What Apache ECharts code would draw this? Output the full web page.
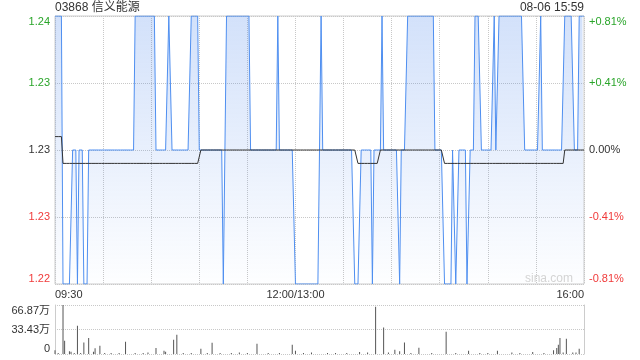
<!DOCTYPE html>
<html><head><meta charset="utf-8">
<script src="https://cdn.jsdelivr.net/npm/echarts@6/dist/echarts.min.js"></script>
<style>html,body{margin:0;padding:0;background:#fff}#c{width:640px;height:360px}</style>
</head><body><div id="c"></div>
<script>
// price per minute, run-length encoded: [price, number of minutes]
const priceRuns = [
  [1.24,5],[1.22,6],[1.23,3],[1.22,1],[1.23,3],[1.22,3],[1.23,29],[1.24,13],[1.23,8],[1.24,2],
  [1.23,12],[1.24,5],[1.23,15],[1.22,1],[1.23,1],[1.24,15],[1.23,17],[1.24,1],[1.23,10],[1.22,16],
  [1.24,1],[1.23,20],[1.22,4],[1.23,7],[1.22,1],[1.23,5],[1.24,1],[1.23,10],[1.22,1],[1.23,4],
  [1.24,17],[1.23,6],[1.22,5],[1.23,2],[1.22,2],[1.23,5],[1.22,2],[1.23,3],[1.24,4],[1.23,8],
  [1.24,1],[1.23,2],[1.24,16],[1.23,10],[1.24,1],[1.23,14],[1.24,6],[1.23,3],[1.24,4]
];
// average price per minute, run-length encoded
const avgRuns = [[1.231,5],[1.229,86],[1.23,98],[1.229,14],[1.23,40],[1.229,75],[1.23,13]];
// volume (万) : [minute index, volume]
const volumePoints = [
  [0,5],[2,1.5],[5,66.87],[6,18],[9,3.6],[10,3],[12,1.5],[14,38.4],[16,1.5],[18,15.8],[21,22],[24,3],[25,8],
  [28,11.3],[31,1.5],[35,1.5],[40,1.5],[44,16.7],[50,1.5],[55,1.5],[58,2],[63,8.1],[68,4.5],[69,3],
  [74,19.4],[76,26.2],[80,1.5],[85,1.5],[91,7.2],[95,1.5],[98,15.4],[103,1.5],[110,1.5],[115,2],
  [120,1.5],[126,14],[133,1.5],[140,1.5],[148,12.7],[150,4.5],[155,1.5],[160,2],[170,1.5],[175,1.5],
  [182,1.5],[190,2.7],[195,2],[200,64.6],[205,36.1],[208,2],[212,5.9],[215,3.6],[218,15.8],[222,1.5],
  [227,8.6],[235,1.5],[244,30.3],[250,1.5],[258,4.5],[265,1.5],[270,1.5],[276,4.5],[285,2],[290,1.5],
  [298,2.7],[305,1.5],[311,5],[313,8.1],[314,12.7],[315,21.7],[317,2],[319,20.8],[323,2],[325,2],[327,7.2]
];
const minuteCount = 331;
const priceTicks = ['1.22','1.23','1.23','1.23','1.24'];
const pctTicks = ['-0.81%','-0.41%','0.00%','+0.41%','+0.81%'];
const tickColors = ['#f03a3a','#f03a3a','#333','#2aa52a','#2aa52a'];
const volTicks = ['0','33.43万','66.87万'];
const xTickIdx = [0,150,330];
const xTickLabels = ['09:30','12:00/13:00','16:00'];

function expand(runs){const out=[];runs.forEach(([v,n])=>{for(let i=0;i<n;i++)out.push(v);});return out;}
const prices = expand(priceRuns);
const avgs = expand(avgRuns);
const vols = new Array(minuteCount).fill(0);
volumePoints.forEach(([m,v])=>{vols[m]=v;});
const cats = Array.from({length:minuteCount},(_,i)=>String(i));

const FF = '"Liberation Sans", Arial, "Noto Sans CJK SC", sans-serif';
const pIdx = v => Math.round((v-1.22)/0.005);

const chart = echarts.init(document.getElementById('c'), null, {renderer:'canvas'});
chart.setOption({
  animation:false,
  textStyle:{fontFamily:FF},
  title:[
    {text:'03868 信义能源', left:55, top:2, padding:0, textStyle:{fontSize:12, fontWeight:'normal', color:'#333', fontFamily:FF}},
    {text:'08-06 15:59', right:56, top:2, padding:0, textStyle:{fontSize:12, fontWeight:'normal', color:'#333', fontFamily:FF}},
    {text:'sina.com', right:67, top:273, padding:0, textStyle:{fontSize:12, fontWeight:'normal', color:'#d4d4d4', fontFamily:FF}}
  ],
  grid:[
    {left:55, right:56, top:16, height:268, show:true, borderColor:'#ccc', borderWidth:1, backgroundColor:'transparent'},
    {left:55, right:56, top:305, height:49}
  ],
  xAxis:[
    {type:'category', gridIndex:0, data:cats, boundaryGap:false,
     axisLine:{show:false}, axisTick:{show:false},
     axisLabel:{show:true, interval:(i)=>xTickIdx.indexOf(i)>=0, margin:5, fontSize:11, color:'#333', fontFamily:FF,
       alignMinLabel:'left', alignMaxLabel:'right',
       formatter:(v)=>{const k=xTickIdx.indexOf(Number(v));return k>=0?xTickLabels[k]:'';}},
     splitLine:{show:true, interval:(i)=>i%30===0, lineStyle:{type:'dotted', color:'#c8c8c8', width:1}}},
    {type:'category', gridIndex:1, data:cats, boundaryGap:false,
     axisLine:{show:false}, axisTick:{show:false}, axisLabel:{show:false}, splitLine:{show:false}}
  ],
  yAxis:[
    {type:'value', gridIndex:0, min:1.22, max:1.24, interval:0.005, position:'left',
     axisLine:{show:false}, axisTick:{show:false},
     axisLabel:{margin:5, fontSize:11, fontFamily:FF,
       verticalAlignMinLabel:'bottom', verticalAlignMaxLabel:'top',
       formatter:(v)=>priceTicks[pIdx(v)], color:(v)=>tickColors[pIdx(v)]},
     splitLine:{show:true, lineStyle:{type:'dotted', color:'#c8c8c8'}}},
    {type:'value', gridIndex:0, min:1.22, max:1.24, interval:0.005, position:'right',
     axisLine:{show:false}, axisTick:{show:false},
     axisLabel:{margin:5, fontSize:11, fontFamily:FF,
       verticalAlignMinLabel:'bottom', verticalAlignMaxLabel:'top',
       formatter:(v)=>pctTicks[pIdx(v)], color:(v)=>tickColors[pIdx(v)]},
     splitLine:{show:false}},
    {type:'value', gridIndex:1, min:0, max:66.87, interval:33.435, position:'left',
     axisLine:{show:true, lineStyle:{color:'#ccc'}}, axisTick:{show:false},
     axisLabel:{margin:5, fontSize:11, color:'#333', fontFamily:FF,
       verticalAlignMinLabel:'bottom', verticalAlignMaxLabel:'top',
       formatter:(v)=>volTicks[Math.round(v/33.435)]},
     splitLine:{show:true, lineStyle:{type:'dotted', color:'#c8c8c8'}}},
    {type:'value', gridIndex:1, min:0, max:66.87, interval:33.435, position:'right',
     axisLine:{show:true, lineStyle:{color:'#ccc'}}, axisTick:{show:false},
     axisLabel:{show:false}, splitLine:{show:false}}
  ],
  series:[
    {type:'line', xAxisIndex:0, yAxisIndex:0, data:prices, showSymbol:false, symbol:'none', z:3,
     lineStyle:{color:'#4f8ff0', width:1},
     areaStyle:{origin:'start', color:new echarts.graphic.LinearGradient(0,0,0,1,[
       {offset:0, color:'rgba(70,130,235,0.34)'},
       {offset:1, color:'rgba(70,130,235,0.01)'}])}},
    {type:'line', xAxisIndex:0, yAxisIndex:0, data:avgs, showSymbol:false, symbol:'none', z:4,
     lineStyle:{color:'#333', width:1}},
    {type:'bar', xAxisIndex:1, yAxisIndex:2, data:vols, barWidth:1, itemStyle:{color:'#555'}}
  ]
});
</script>
</body></html>
